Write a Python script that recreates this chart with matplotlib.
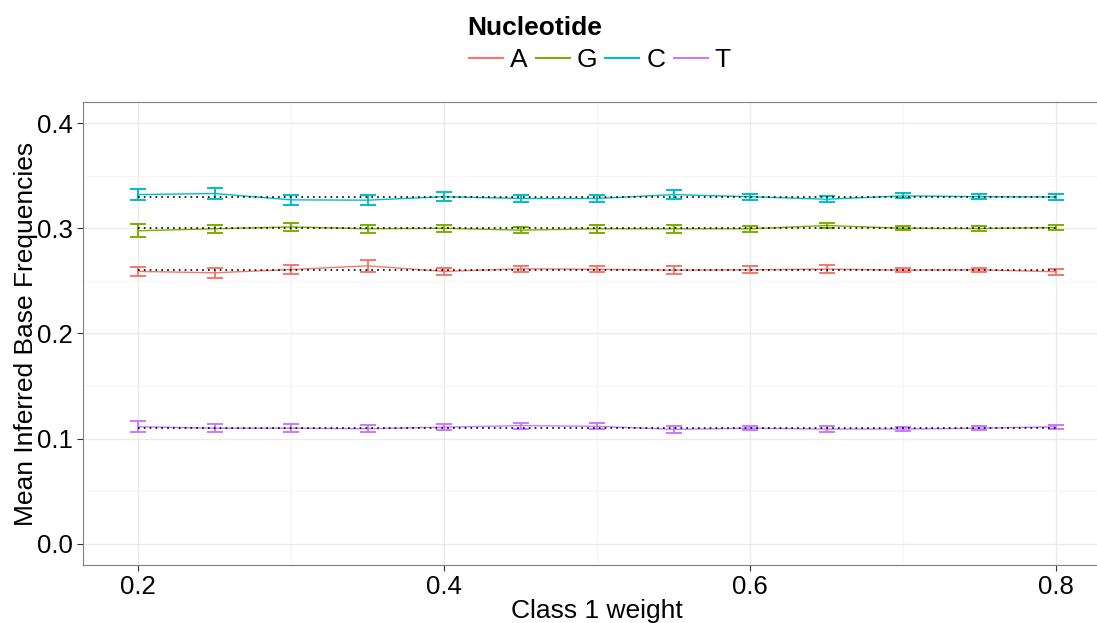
import matplotlib.pyplot as plt
from matplotlib.lines import Line2D
import numpy as np

plt.rcParams['font.family'] = ['Liberation Sans', 'DejaVu Sans']

weights = [0.2, 0.25, 0.3, 0.35, 0.4, 0.45, 0.5, 0.55, 0.6, 0.65, 0.7, 0.75, 0.8]
nucleotides = ['A', 'G', 'C', 'T']
true_freqs = [0.26, 0.30, 0.33, 0.11]

mean_A = [0.259, 0.2577, 0.2608, 0.2643, 0.259, 0.2615, 0.261, 0.2602, 0.2605, 0.2612, 0.2602, 0.2605, 0.2587]
err_A = [0.004, 0.005, 0.004, 0.0055, 0.0036, 0.003, 0.003, 0.0035, 0.0033, 0.004, 0.0017, 0.002, 0.003]
mean_G = [0.2976, 0.2995, 0.3013, 0.2995, 0.300, 0.2982, 0.2995, 0.2995, 0.2995, 0.3026, 0.300, 0.2997, 0.3007]
err_G = [0.006, 0.004, 0.004, 0.004, 0.0033, 0.003, 0.0036, 0.004, 0.003, 0.002, 0.002, 0.002, 0.002]
mean_C = [0.332, 0.333, 0.327, 0.3267, 0.330, 0.3283, 0.3283, 0.332, 0.330, 0.3276, 0.3308, 0.330, 0.3297]
err_C = [0.005, 0.005, 0.005, 0.0045, 0.004, 0.0033, 0.003, 0.004, 0.003, 0.003, 0.0025, 0.0025, 0.0024]
mean_T = [0.1114, 0.110, 0.110, 0.1095, 0.111, 0.1124, 0.1118, 0.1089, 0.110, 0.1092, 0.1092, 0.110, 0.1114]
err_T = [0.005, 0.004, 0.004, 0.0035, 0.003, 0.003, 0.0027, 0.003, 0.002, 0.0025, 0.002, 0.002, 0.002]

means = [mean_A, mean_G, mean_C, mean_T]
errs = [err_A, err_G, err_C, err_T]
colors = ['#F8766D', '#7CAE00', '#00BFC4', '#C77CFF']

fig = plt.figure(figsize=(10.97, 6.23), dpi=100)
# panel runs off the right edge of the canvas
ax = fig.add_axes([0.0757, 0.0931, 0.9371, 0.7432])

x = np.array(weights)
for nuc, m, e, c, t in zip(nucleotides, means, errs, colors, true_freqs):
    ax.errorbar(x, m, yerr=e, color=c, lw=1.0, elinewidth=1.4,
                capsize=5.5, capthick=1.4, zorder=3)
    ax.plot(x, [t] * len(x), color='black', ls=(0, (1, 2.5)), lw=1.2, zorder=4)

ax.set_xlim(0.164, 0.836)
ax.set_ylim(-0.02, 0.42)
ax.set_xticks([0.2, 0.4, 0.6, 0.8])
ax.set_xticks([0.3, 0.5, 0.7], minor=True)
ax.set_yticks([0.0, 0.1, 0.2, 0.3, 0.4])
ax.set_yticks([0.05, 0.15, 0.25, 0.35], minor=True)
ax.grid(which='major', color='#EBEBEB', lw=1.0)
ax.grid(which='minor', color='#F5F5F5', lw=0.8)
ax.set_axisbelow(True)
for s in ax.spines.values():
    s.set_color('#7F7F7F')
    s.set_linewidth(0.8)
ax.tick_params(which='major', length=4.3, width=0.8, color='#333333',
               labelsize=18.5, labelcolor='black', pad=3)
ax.tick_params(which='minor', length=0)
ax.set_xlabel('Class 1 weight', fontsize=19)
ax.set_ylabel('Mean Inferred Base Frequencies', fontsize=19)
ax.xaxis.set_label_coords(0.5, -0.0725)
ax.yaxis.set_label_coords(-0.0438, 0.5)

# legend on top: bold title above a single row of keys
fig.text(467 / 1097, 1 - 28 / 623, 'Nucleotide', fontsize=19, fontweight='bold',
         ha='left', va='center')
handles = [Line2D([], [], color=c, lw=1.5) for c in colors]
fig.legend(handles, nucleotides, loc='center left',
           bbox_to_anchor=(469 / 1097, 1 - 60 / 623), ncol=4, frameon=False,
           fontsize=19, handlelength=1.29, handletextpad=0.27,
           columnspacing=0.3, borderpad=0, borderaxespad=0)

fig.savefig('out.png', dpi=100)
